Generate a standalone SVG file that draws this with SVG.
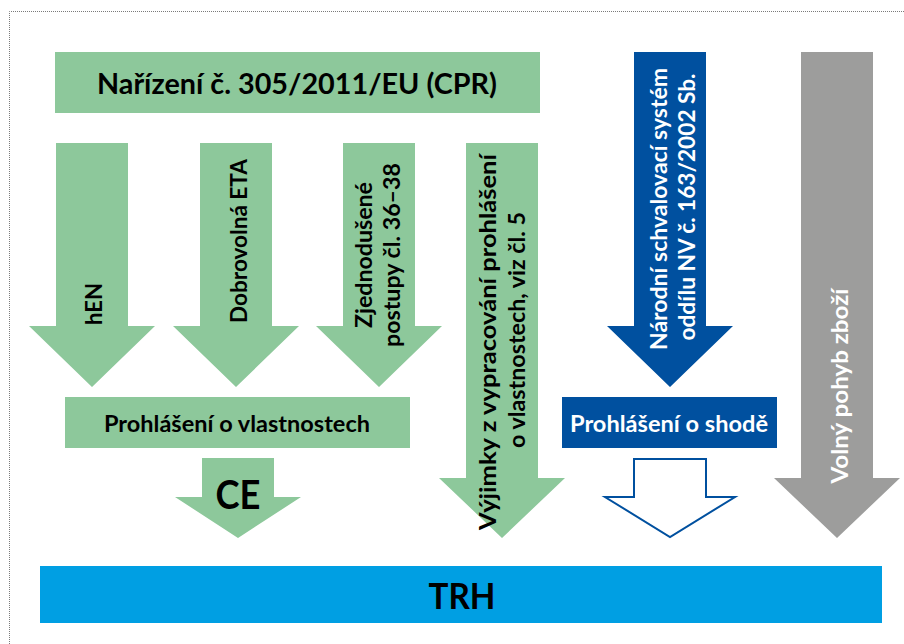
<svg xmlns="http://www.w3.org/2000/svg" width="904" height="644" viewBox="0 0 904 644">
<style>
.g{fill:#8DC89B}
.b{fill:#00509F}
.gr{fill:#9D9D9C}
.t{font-family:Lato,"Open Sans","Liberation Sans",sans-serif;font-weight:bold;fill:#000}
.w{fill:#fff}
.v{font-size:23px;text-anchor:middle}
.h{text-anchor:middle}
</style>
<rect width="904" height="644" fill="#fff"/>
<path d="M9.5 644 V11.5 H904" fill="none" stroke="#7a7a7a" stroke-width="1" stroke-dasharray="1 1"/>

<g id="title">
<rect class="g" x="55" y="52" width="485" height="61"/>
<text class="t h" x="297" y="94" font-size="28" textLength="400" lengthAdjust="spacingAndGlyphs">Nařízení č. 305/2011/EU (CPR)</text>
</g>

<g id="hen">
<polygon class="g" points="56,143 128,143 128,326 155,326 92,387 29,326 56,326"/>
<text class="t v" transform="translate(102 304) rotate(-90)" textLength="42" lengthAdjust="spacingAndGlyphs">hEN</text>
</g>

<g id="eta">
<polygon class="g" points="200,143 272,143 272,326 299,326 236,387 173,326 200,326"/>
<text class="t v" transform="translate(247 241) rotate(-90)" textLength="164" lengthAdjust="spacingAndGlyphs">Dobrovolná ETA</text>
</g>

<g id="zjednodusene">
<polygon class="g" points="343,143 415,143 415,326 442,326 379,387 316,326 343,326"/>
<text class="t v" transform="translate(372 255) rotate(-90)" textLength="146" lengthAdjust="spacingAndGlyphs">Zjednodušené</text>
<text class="t v" transform="translate(400 255) rotate(-90)" textLength="184" lengthAdjust="spacingAndGlyphs">postupy čl. 36–38</text>
</g>

<g id="vyjimky">
<polygon class="g" points="466,143 538,143 538,478 565,478 502,538 439,478 466,478"/>
<text class="t v" transform="translate(496 342) rotate(-90)" textLength="376" lengthAdjust="spacingAndGlyphs">Výjimky z vypracování prohlášení</text>
<text class="t v" transform="translate(525 330) rotate(-90)" textLength="236" lengthAdjust="spacingAndGlyphs">o vlastnostech, viz čl. 5</text>
</g>

<g id="narodni">
<polygon class="b" points="634,52 706,52 706,326 733,326 670,387 607,326 634,326"/>
<text class="t v w" transform="translate(667 209) rotate(-90)" textLength="282" lengthAdjust="spacingAndGlyphs">Národní schvalovací systém</text>
<text class="t v w" transform="translate(695 207) rotate(-90)" textLength="267" lengthAdjust="spacingAndGlyphs">oddílu NV č. 163/2002 Sb.</text>
</g>

<g id="volny">
<polygon class="gr" points="801,52 873,52 873,478 900,478 837,538 774,478 801,478"/>
<text class="t v w" transform="translate(848 386) rotate(-90)" textLength="195" lengthAdjust="spacingAndGlyphs">Volný pohyb zboží</text>
</g>

<g id="prohlaseni-vlastnosti">
<rect class="g" x="65" y="397" width="345" height="51"/>
<text class="t h" x="237" y="432" font-size="22" textLength="266" lengthAdjust="spacingAndGlyphs">Prohlášení o vlastnostech</text>
</g>

<g id="prohlaseni-shoda">
<rect class="b" x="562" y="397" width="215" height="51"/>
<text class="t h w" x="669" y="432" font-size="22" textLength="198" lengthAdjust="spacingAndGlyphs">Prohlášení o shodě</text>
</g>

<g id="trh">
<rect fill="#009FE3" x="40" y="566" width="842" height="57"/>
<text class="t h" x="462" y="609" font-size="36" textLength="67" lengthAdjust="spacingAndGlyphs">TRH</text>
</g>

<g id="connectors">
<g id="ce">
<polygon class="g" points="202,458 274,458 274,497 301,497 238,538 175,497 202,497"/>
<text class="t h" x="238" y="509" font-size="40" textLength="45" lengthAdjust="spacingAndGlyphs">CE</text>
</g>
<polygon id="shoda-arrow" points="634,459 706,459 706,497 735,497 670,537 605,497 634,497" fill="#fff" stroke="#00509F" stroke-width="2"/>
</g>
</svg>
